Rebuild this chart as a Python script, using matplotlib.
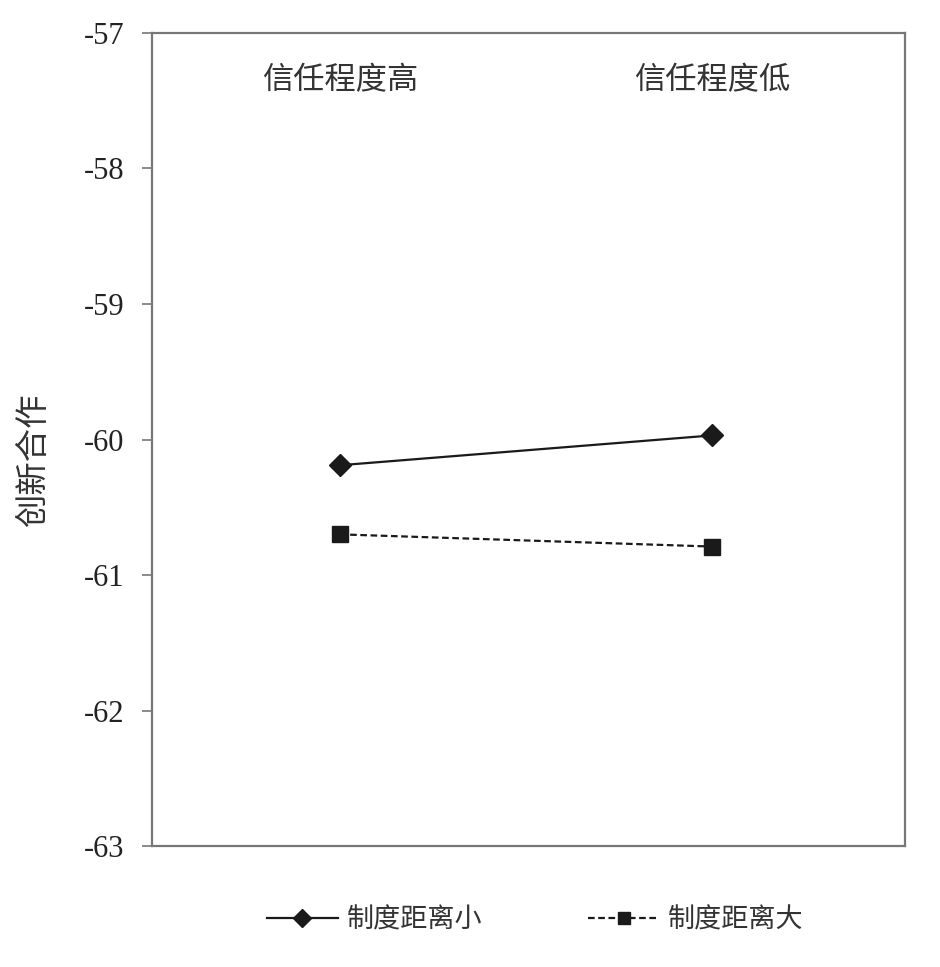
import matplotlib
matplotlib.use("Agg")
import matplotlib.pyplot as plt

plt.rcParams['font.family'] = ['Noto Sans CJK SC', 'DejaVu Sans']

categories = ['信任程度高', '信任程度低']
small_dist = [-60.19, -59.97]
large_dist = [-60.70, -60.79]
series_names = ['制度距离小', '制度距离大']
y_ticks = [-57, -58, -59, -60, -61, -62, -63]

fig = plt.figure(figsize=(9.4, 9.67), dpi=100)
ax = fig.add_axes([0.1617, 0.1251, 0.8011, 0.8408])

x = list(range(len(categories)))
ax.plot(x, small_dist, color='#1a1a1a', lw=1.6, marker='D', ms=11,
        label=series_names[0])
ax.plot(x, large_dist, color='#1a1a1a', lw=1.6, ls=(0, (3, 1.6)), marker='s',
        ms=11, label=series_names[1])

ax.set_xlim(-0.505, 1.519)
ax.set_ylim(-63, -57)
ax.set_yticks(y_ticks)
ax.set_yticklabels([str(t) for t in y_ticks], family='Liberation Serif',
                   fontsize=22, color='#222222')
ax.set_xticks([])
ax.tick_params(axis='y', direction='out', length=7, width=1.2, color='#777777', pad=13)
for s in ax.spines.values():
    s.set_color('#777777')
    s.set_linewidth(1.6)

for xi, c in zip(x, categories):
    ax.text(xi, -57.35, c, ha='center', va='center', fontsize=22.5, color='#333333')

fig.text(0.036, 0.524, '创新合作', rotation=90, ha='center', va='center',
         fontsize=24, color='#333333')

fig.legend(loc='center', bbox_to_anchor=(0.569, 0.049), ncol=2, frameon=False,
           fontsize=19.5, handlelength=2.65, columnspacing=3.9, handletextpad=0.3,
           numpoints=1, markerscale=0.85, labelcolor='#333333')

fig.savefig('out.png', dpi=100, facecolor='white')
